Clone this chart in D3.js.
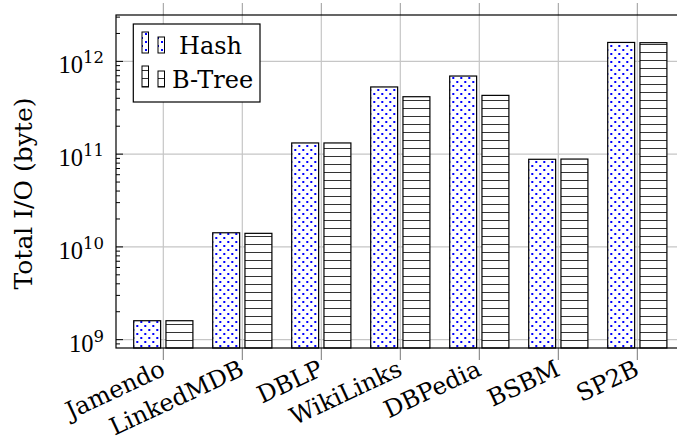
<!DOCTYPE html>
<html>
<head>
<meta charset="utf-8">
<script src="https://cdn.jsdelivr.net/npm/d3@7"></script>
<style>
  body { margin: 0; background: #fff; }
  svg { display: block; }
  .lbl { font-family: "DejaVu Serif", serif; font-size: 24px; fill: #000; }
  .tick-num { font-family: "Liberation Serif", serif; font-size: 24.5px; fill: #000; }
</style>
</head>
<body>
<svg class="chart" width="677" height="439"></svg>
<script>
// datasets along the x axis
const datasets = ['Jamendo', 'LinkedMDB', 'DBLP', 'WikiLinks', 'DBPedia', 'BSBM', 'SP2B']
// total I/O in bytes
const hashIO  = [1.6e9, 1.42e10, 1.32e11, 5.3e11, 6.95e11, 8.8e10, 1.6e12]
const btreeIO = [1.6e9, 1.40e10, 1.32e11, 4.16e11, 4.3e11, 8.85e10, 1.59e12]
const seriesNames = ['Hash', 'B-Tree']
const yTickExps = [9, 10, 11, 12]

const svg = d3.select('.chart')

// plot frame
const plotLeft = 116, plotTop = 15, plotBottom = 348
const x = d3.scalePoint().domain(datasets).range([163.3, 637.3])
const plotRight = x(datasets[datasets.length - 1]) + (x(datasets[0]) - plotLeft)

const y = d3.scaleLog()
    .domain([Math.pow(10, 8.91), Math.pow(10, 12.5)])
    .range([plotBottom, plotTop])

const xSub = d3.scaleBand()
    .domain(seriesNames)
    .range([-29.6, 29.6])
    .paddingInner(0.165)

// patterns
const defs = svg.append('defs')
const dots = defs.append('pattern')
    .attr('id', 'dots')
    .attr('patternUnits', 'userSpaceOnUse')
    .attr('width', 8).attr('height', 8)
dots.append('rect').attr('x', 1).attr('y', 1).attr('width', 2).attr('height', 2)
    .attr('fill', '#0000ff').attr('shape-rendering', 'crispEdges')
dots.append('rect').attr('x', 5).attr('y', 5).attr('width', 2).attr('height', 2)
    .attr('fill', '#0000ff').attr('shape-rendering', 'crispEdges')

const hlines = defs.append('pattern')
    .attr('id', 'hlines')
    .attr('patternUnits', 'userSpaceOnUse')
    .attr('width', 10).attr('height', 8)
hlines.append('rect')
    .attr('x', 0).attr('y', 4).attr('width', 10).attr('height', 1)
    .attr('fill', '#333').attr('shape-rendering', 'crispEdges')

const fills = { 'Hash': 'url(#dots)', 'B-Tree': 'url(#hlines)' }

// grid
const grid = svg.append('g')
grid.selectAll('.vgrid')
    .data(datasets)
    .enter()
    .append('line')
    .attr('x1', d => x(d)).attr('x2', d => x(d))
    .attr('y1', plotTop).attr('y2', plotBottom)
    .attr('stroke', '#c6c6c6').attr('stroke-width', 1.2)

grid.selectAll('.hgrid')
    .data(yTickExps)
    .enter()
    .append('line')
    .attr('x1', plotLeft).attr('x2', plotRight)
    .attr('y1', d => y(Math.pow(10, d))).attr('y2', d => y(Math.pow(10, d)))
    .attr('stroke', '#c6c6c6').attr('stroke-width', 1.2)

// outward x ticks above and below the frame
svg.selectAll('.xtick')
    .data(datasets)
    .enter()
    .append('g')
    .each(function (d) {
        const g = d3.select(this)
        g.append('line').attr('x1', x(d)).attr('x2', x(d)).attr('y1', plotTop - 12).attr('y2', plotTop)
            .attr('stroke', '#999').attr('stroke-width', 1)
        g.append('line').attr('x1', x(d)).attr('x2', x(d)).attr('y1', plotBottom).attr('y2', plotBottom + 12)
            .attr('stroke', '#777').attr('stroke-width', 1)
    })

// bars
const rows = datasets.map((d, i) => ({ name: d, values: [hashIO[i], btreeIO[i]] }))

const groups = svg.selectAll('.bar-group')
    .data(rows)
    .enter()
    .append('g')
    .attr('transform', d => `translate(${x(d.name)},0)`)

const bars = groups.selectAll('g')
    .data(d => d.values.map((v, j) => ({ series: seriesNames[j], value: v })))
    .enter()
    .append('g')

bars.append('rect')
    .attr('x', d => xSub(d.series))
    .attr('width', xSub.bandwidth())
    .attr('y', d => y(d.value))
    .attr('height', d => plotBottom - y(d.value))
    .attr('fill', '#fff')

bars.append('rect')
    .attr('x', d => xSub(d.series))
    .attr('width', xSub.bandwidth())
    .attr('y', d => y(d.value))
    .attr('height', d => plotBottom - y(d.value))
    .attr('fill', d => fills[d.series])
    .attr('stroke', '#000').attr('stroke-width', 1.2)

// frame
svg.append('rect')
    .attr('x', plotLeft).attr('y', plotTop)
    .attr('width', plotRight - plotLeft).attr('height', plotBottom - plotTop)
    .attr('fill', 'none').attr('stroke', '#000').attr('stroke-width', 1.2)

// y ticks: major and minor, inward on both sides
const minor = []
for (let e = 8; e <= 12; e++) {
    for (let k = 2; k <= 9; k++) {
        const v = k * Math.pow(10, e)
        if (v >= y.domain()[0] && v <= y.domain()[1]) minor.push(v)
    }
}
const ticks = svg.append('g').attr('stroke', '#000').attr('stroke-width', 1)
ticks.selectAll('.ymin')
    .data(minor)
    .enter()
    .append('path')
    .attr('d', d => `M${plotLeft},${y(d)}h4M${plotRight},${y(d)}h-4`)
ticks.selectAll('.ymaj')
    .data(yTickExps)
    .enter()
    .append('path')
    .attr('d', d => `M${plotLeft},${y(Math.pow(10, d))}h7M${plotRight},${y(Math.pow(10, d))}h-7`)

// y tick labels 10^n
const yLabels = svg.selectAll('.ylab')
    .data(yTickExps)
    .enter()
    .append('text')
    .attr('class', 'tick-num')
    .attr('text-anchor', 'end')
    .attr('x', plotLeft - 12)
    .attr('y', d => y(Math.pow(10, d)) + 12)
yLabels.append('tspan').text('10')
yLabels.append('tspan')
    .attr('dy', -10)
    .style('font-family', '"DejaVu Serif", serif')
    .style('font-size', '16.5px')
    .text(d => d)

// x tick labels, rotated
svg.selectAll('.xlab')
    .data(datasets)
    .enter()
    .append('text')
    .attr('class', 'lbl')
    .attr('text-anchor', 'end')
    .attr('transform', d => `translate(${x(d) - 4},${plotBottom + 11}) rotate(-25)`)
    .attr('dy', '0.72em')
    .text(d => d)

// y axis title
svg.append('text')
    .attr('class', 'lbl')
    .style('font-size', '25px')
    .attr('text-anchor', 'middle')
    .attr('transform', `translate(32,${(plotTop + plotBottom) / 2 + 12}) rotate(-90)`)
    .text('Total I/O (byte)')

// legend
const legend = svg.append('g')
legend.append('rect')
    .attr('x', 133.3).attr('y', 24)
    .attr('width', 126.7).attr('height', 78)
    .attr('fill', '#fff').attr('stroke', '#000').attr('stroke-width', 1.2)

const legendRows = legend.selectAll('.legend-row')
    .data(seriesNames)
    .enter()
    .append('g')
    .attr('transform', (d, i) => `translate(0,${i * 34})`)

legendRows.append('rect').attr('x', 142).attr('y', 32).attr('width', 6.5).attr('height', 21)
    .attr('fill', '#fff')
legendRows.append('rect').attr('x', 142).attr('y', 32).attr('width', 6.5).attr('height', 21)
    .attr('fill', d => fills[d]).attr('stroke', '#000').attr('stroke-width', 1)
legendRows.append('rect').attr('x', 158).attr('y', 37).attr('width', 6.5).attr('height', 16)
    .attr('fill', '#fff')
legendRows.append('rect').attr('x', 158).attr('y', 37).attr('width', 6.5).attr('height', 16)
    .attr('fill', d => fills[d]).attr('stroke', '#000').attr('stroke-width', 1)
legendRows.append('text')
    .attr('class', 'lbl')
    .attr('x', d => d === 'Hash' ? 179 : 172)
    .attr('y', 54)
    .text(d => d)
</script>
</body>
</html>
